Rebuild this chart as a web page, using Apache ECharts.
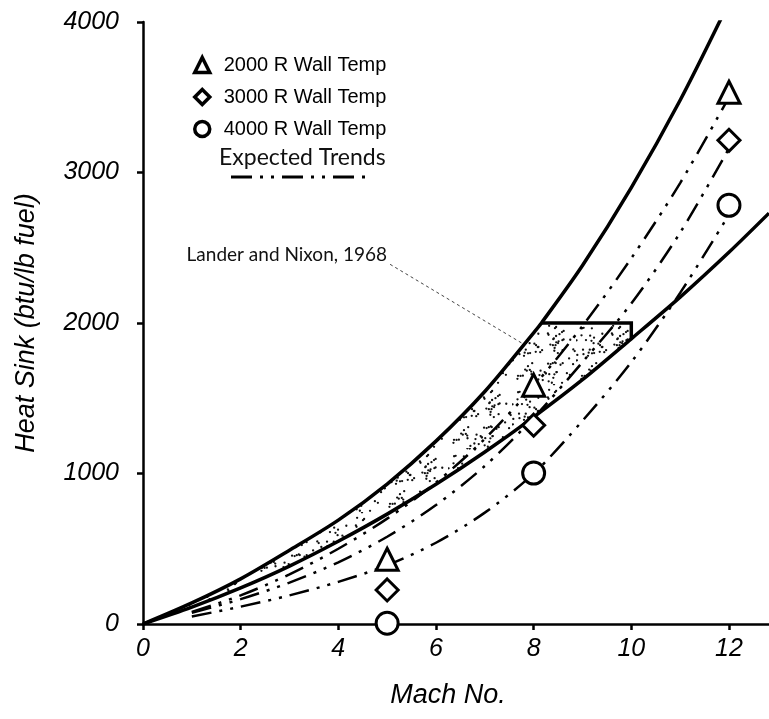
<!DOCTYPE html>
<html><head><meta charset="utf-8">
<script src="https://cdn.jsdelivr.net/npm/echarts@6/dist/echarts.min.js"></script>
<style>html,body{margin:0;padding:0;background:#fff}#c{width:769px;height:719px}</style>
</head><body><div id="c"></div>
<script>
// ---- data ----
const machTicks = [0, 2, 4, 6, 8, 10, 12];
const heatTicks = [0, 1000, 2000, 3000, 4000];
const seriesNames = ['2000 R Wall Temp', '3000 R Wall Temp', '4000 R Wall Temp'];
const markerMach = [5, 8, 12];
const wall2000 = [430, 1587, 3533];
const wall3000 = [226, 1321, 3214];
const wall4000 = [5, 1003, 2782];
const trendMach = [1, 2, 3, 4, 5, 6, 7, 8, 9, 10, 11, 12];
const trend2000 = [80, 190, 330, 500, 700, 940, 1230, 1580, 1980, 2430, 2930, 3500];
const trend3000 = [75, 165, 275, 410, 580, 790, 1050, 1370, 1740, 2130, 2600, 3160];
const trend4000 = [50, 115, 190, 280, 390, 540, 740, 1000, 1350, 1740, 2200, 2720];
const upperMach = [0, 1, 2, 3, 4, 5, 6, 7, 8, 8.16, 9, 10, 11, 12];
const upperHeat = [0, 140, 300, 490, 690, 930, 1215, 1545, 1935, 2000, 2382, 2900, 3480, 4130];
const lowerMach = [0, 1, 2, 3, 4, 5, 6, 7, 8, 9, 10, 11, 12, 12.82];
const lowerHeat = [0, 112, 240, 385, 550, 730, 928, 1143, 1375, 1623, 1895, 2172, 2470, 2730];
const boxMach = [8.16, 10, 10];
const boxHeat = [2000, 2000, 1895];
const leaderMach = [5.06, 7.76];
const leaderHeat = [2390, 1866];
const regionLabel = 'Lander and Nixon, 1968';
const trendLabel = 'Expected Trends';

const zip = (xs, ys) => xs.map((x, i) => [x, ys[i]]);

// stipple texture for the shaded band
function makeStipple() {
  const c = document.createElement('canvas');
  c.width = 64; c.height = 64;
  const g = c.getContext('2d');
  g.fillStyle = '#111';
  let s = 12345;
  const rnd = () => { s = (s * 1103515245 + 12345) % 2147483648; return s / 2147483648; };
  for (let i = 0; i < 95; i++) {
    const px = rnd() * 63, py = rnd() * 63;
    g.beginPath(); g.arc(px, py, 1.15, 0, Math.PI * 2); g.fill();
  }
  return c;
}
const stipple = makeStipple();

// region polygon from upper curve (to box), box, lower curve back
const polyPts = [];
upperMach.forEach((m, i) => { if (m <= 8.16) polyPts.push([m, upperHeat[i]]); });
boxMach.forEach((m, i) => polyPts.push([m, boxHeat[i]]));
for (let i = lowerMach.length - 1; i >= 0; i--) if (lowerMach[i] < 10) polyPts.push([lowerMach[i], lowerHeat[i]]);

const chart = echarts.init(document.getElementById('c'));
const dashDot2 = [20, 8, 3, 8, 3, 8];
const font = 'Liberation Sans, Arial, sans-serif';

chart.setOption({
  animation: false,
  backgroundColor: '#fff',
  grid: { left: 143, right: 0, top: 22, bottom: 95 },
  xAxis: {
    type: 'value', min: 0, max: 12.82,
    name: 'Mach No.', nameLocation: 'middle', nameGap: 58,
    nameTextStyle: { fontStyle: 'italic', fontSize: 27, color: '#000', fontFamily: font, padding: [0, 16, 0, 0] },
    axisLine: { lineStyle: { color: '#000', width: 2.5 } },
    axisTick: { customValues: machTicks, length: 6, lineStyle: { color: '#000', width: 2.5 } },
    axisLabel: { customValues: machTicks, fontStyle: 'italic', fontSize: 25, color: '#000', fontFamily: font, margin: 13 },
    splitLine: { show: false }
  },
  yAxis: {
    type: 'value', min: 0, max: 4000, interval: 1000,
    name: 'Heat Sink (btu/lb fuel)', nameLocation: 'middle', nameGap: 103,
    nameTextStyle: { fontStyle: 'italic', fontSize: 27, color: '#000', fontFamily: font },
    axisLine: { show: true, lineStyle: { color: '#000', width: 2.5 } },
    axisTick: { show: true, length: 6, lineStyle: { color: '#000', width: 2.5 } },
    axisLabel: { formatter: v => String(v), fontStyle: 'italic', fontSize: 25, color: '#000', fontFamily: font, margin: 24 },
    splitLine: { show: false }
  },
  legend: {
    data: seriesNames, orient: 'vertical', left: 188, top: 50,
    itemWidth: 15, itemHeight: 15, itemGap: 12,
    textStyle: { fontSize: 20, color: '#000', fontFamily: font, lineHeight: 20, padding: [0, 0, 0, 9] },
    itemStyle: { color: '#fff', borderColor: '#000', borderWidth: 3.5 }
  },
  graphic: [
    { type: 'text', left: 219, top: 146, style: { text: trendLabel, fontSize: 23, fontFamily: 'Lato, Open Sans, sans-serif', fill: '#111' } },
    { type: 'line', shape: { x1: 231, y1: 177, x2: 365, y2: 177 }, style: { stroke: '#000', lineWidth: 3, lineDash: [21, 8, 3, 8, 3, 8] } },
    { type: 'text', x: 387, y: 255, style: { text: regionLabel, fontSize: 19, fontFamily: 'Lato, Open Sans, sans-serif', fill: '#111', align: 'right', verticalAlign: 'middle' } }
  ],
  series: [
    {
      type: 'custom', name: 'band', silent: true, z: 1, clip: true,
      data: [[0, 0]],
      renderItem: function (params, api) {
        const pts = polyPts.map(p => api.coord(p));
        return { type: 'polygon', shape: { points: pts }, style: { fill: { image: stipple, repeat: 'repeat' } } };
      }
    },
    { type: 'line', name: 'upper', data: zip(upperMach, upperHeat), smooth: 0.3, symbol: 'none', z: 3,
      lineStyle: { color: '#000', width: 3.5 } },
    { type: 'line', name: 'lower', data: zip(lowerMach, lowerHeat), smooth: 0.3, symbol: 'none', z: 3,
      lineStyle: { color: '#000', width: 3.5 } },
    { type: 'line', name: 'box', data: zip(boxMach, boxHeat), symbol: 'none', z: 3,
      lineStyle: { color: '#000', width: 3.5, join: 'miter' } },
    { type: 'line', name: 'leader', data: zip(leaderMach, leaderHeat), symbol: 'none', z: 2,
      lineStyle: { color: '#444', width: 1, type: [3, 3] } },
    { type: 'line', name: 't2000', data: zip(trendMach, trend2000), smooth: 0.3, symbol: 'none', z: 2,
      lineStyle: { color: '#000', width: 2.5, type: dashDot2 } },
    { type: 'line', name: 't3000', data: zip(trendMach, trend3000), smooth: 0.3, symbol: 'none', z: 2,
      lineStyle: { color: '#000', width: 2.5, type: dashDot2 } },
    { type: 'line', name: 't4000', data: zip(trendMach, trend4000), smooth: 0.3, symbol: 'none', z: 2,
      lineStyle: { color: '#000', width: 2.5, type: dashDot2 } },
    { type: 'scatter', name: seriesNames[0], data: zip(markerMach, wall2000), symbol: 'triangle', symbolSize: 22, z: 5,
      itemStyle: { color: '#fff', borderColor: '#000', borderWidth: 3, opacity: 1 } },
    { type: 'scatter', name: seriesNames[1], data: zip(markerMach, wall3000), symbol: 'diamond', symbolSize: 22, z: 5,
      itemStyle: { color: '#fff', borderColor: '#000', borderWidth: 3, opacity: 1 } },
    { type: 'scatter', name: seriesNames[2], data: zip(markerMach, wall4000), symbol: 'circle', symbolSize: 22, z: 5,
      itemStyle: { color: '#fff', borderColor: '#000', borderWidth: 3, opacity: 1 } }
  ]
});
</script>
</body></html>
